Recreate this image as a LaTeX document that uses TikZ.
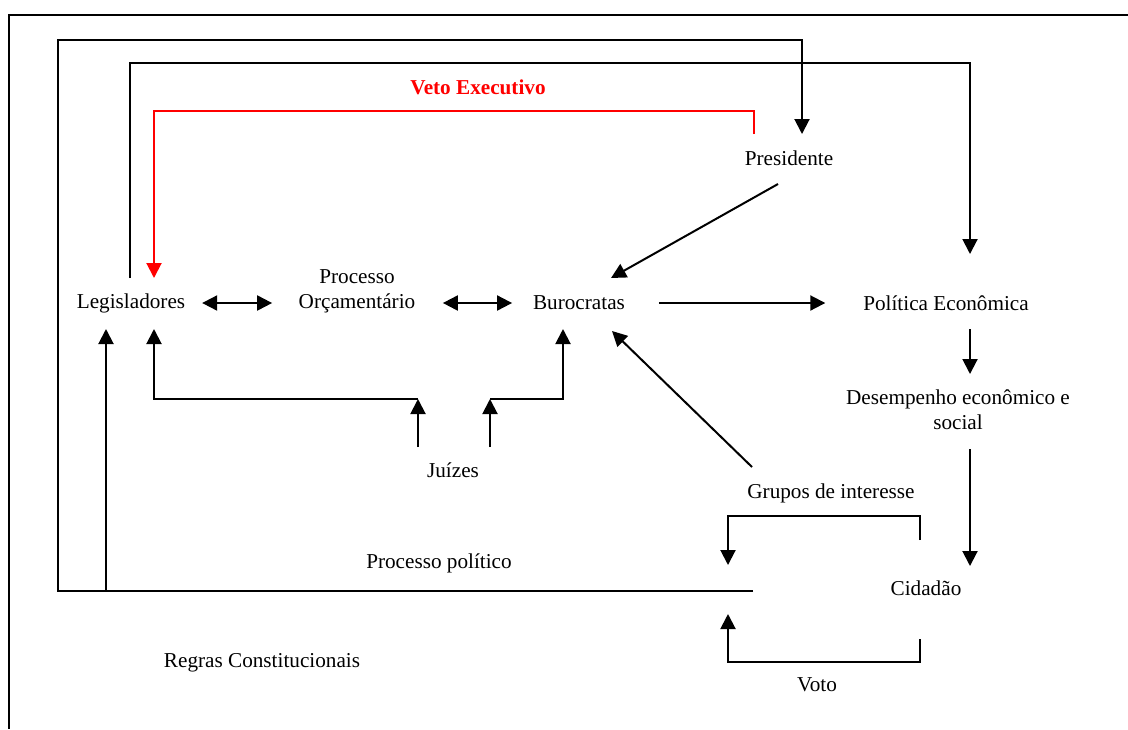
\documentclass[tikz,border=0pt]{standalone}
\usepackage{fontspec}
\setmainfont{Liberation Serif}
\usetikzlibrary{arrows.meta,calc}

\begin{document}
\begin{tikzpicture}[x=0.5pt,y=-0.5pt,line width=1pt,
   font=\fontsize{10.6}{12.5}\selectfont,
   lbl/.style={inner sep=0pt,minimum height=24pt,align=center},
   arr/.style={-{Triangle[length=7.5pt,width=7.5pt]}},
   dbl/.style={{Triangle[length=7.5pt,width=7.5pt]}-{Triangle[length=7.5pt,width=7.5pt]}}]
  \useasboundingbox (0,0) rectangle (1128,729);
  \draw (1128,15) -- (9,15) -- (9,729);

  \node[lbl] (leg) at (131,303) {Legisladores};
  \node[lbl] (orc) at (357,291) {Processo\\Orçamentário};
  \node[lbl] (bur) at (579,303) {Burocratas};
  \node[lbl] (pres) at (789,158) {Presidente};
  \node[lbl] (pol) at (946,303) {Política Econômica};
  \node[lbl] (des) at (958,410) {Desempenho econômico e\\social};
  \node[lbl] (cid) at (926,588) {Cidadão};
  \node[lbl] (gru) at (831,493) {Grupos de interesse};
  \node[lbl] (voto) at (817,685) {Voto};
  \node[lbl] (jui) at (453,470) {Juízes};
  \node[lbl] (pp) at (439,563) {Processo político};
  \node[lbl] (reg) at (262,663) {Regras Constitucionais};
  \node[lbl,text=red] (veto) at (478,87) {\textbf{Veto Executivo}};

  \coordinate (pl) at (58,591);
  \coordinate (pr) at (753,591);
  \coordinate (pm) at (106,591);
  \coordinate (vs) at ($(pres.north)+(-35,1)$);
  \coordinate (jl) at ($(jui.north)+(-35,-46)$);
  \coordinate (jr) at ($(jui.north)+(37,-46)$);

  \draw[arr] (pr) -- (pl) -- ++(0,-551) -| ($(pres.north)+(13,1)$);
  \draw[arr] (pm) -- ($(leg.south)+(-25,1)$);
  \draw[arr] ($(leg.north)+(-1,0)$) -- ++(0,-215) -| ($(pol.north)+(24,-24)$);
  \draw[arr,red] (vs) -- ++(0,-23) -| ($(leg.north)+(23,0)$);

  \draw[dbl,shorten <=8pt,shorten >=12.8pt] (leg.east) -- (leg.east -| orc.west);
  \draw[dbl,shorten <=13.3pt,shorten >=10pt] (orc.east |- bur.west) -- (bur.west);
  \draw[arr] ($(pres.south)+(-11,1)$) -- ($(bur.north)+(32,0)$);
  \draw[arr,shorten <=16.5pt,shorten >=18.5pt] (bur.east) -- (pol.west);
  \draw[arr] ($(pol.south)+(24,1)$) -- ($(des.north)+(12,-11)$);
  \draw[arr] ($(des.south)+(12,14)$) -- ($(cid.north)+(44,3)$);
  \draw[arr] ($(gru.north)+(-79,-1)$) -- ($(bur.south)+(33,3)$);

  \draw[arr] ($(cid.north)+(-6,-23)$) -- ++(0,-24) -| ($(pr)+(-25,-26)$);
  \draw[arr] ($(cid.south)+(-6,26)$) -- ++(0,23) -| ($(pr)+(-25,23)$);

  \draw[arr] ($(jui.north)+(-35,2)$) -- (jl);
  \draw[arr] ($(jui.north)+(37,2)$) -- (jr);
  \draw[arr] (jl) -| ($(leg.south)+(23,1)$);
  \draw[arr] (jr) -| ($(bur.south)+(-16,1)$);
\end{tikzpicture}
\end{document}
